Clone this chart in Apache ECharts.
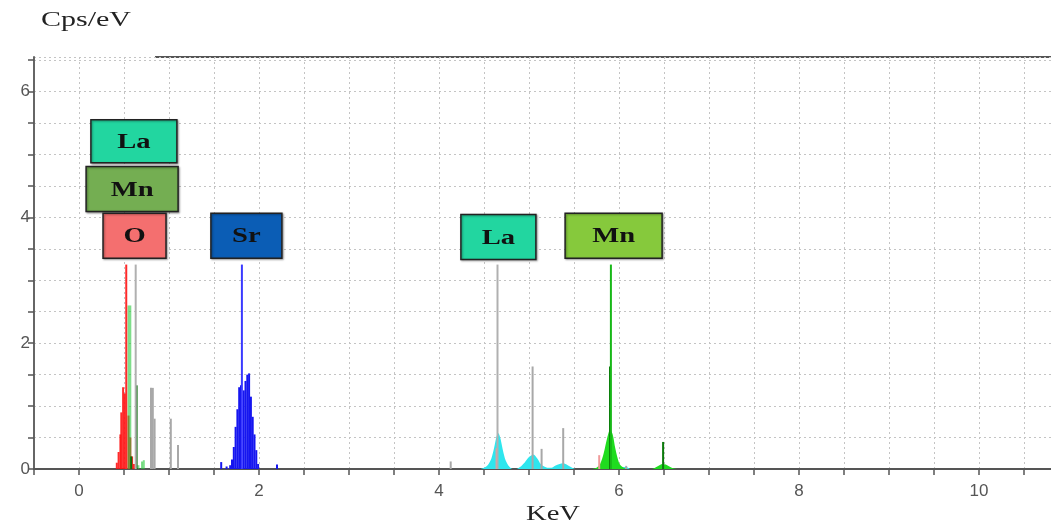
<!DOCTYPE html>
<html><head><meta charset="utf-8">
<script src="https://cdn.jsdelivr.net/npm/echarts@6/dist/echarts.min.js"></script>
<style>html,body{margin:0;padding:0;background:#fff}#c{width:1051px;height:524px}</style>
</head><body><div id="c"></div>
<script>
// ---- data (keV, counts per eV) ----
const oKeV   = [0.42,0.44,0.46,0.47,0.49,0.51,0.55,0.57,0.59,0.61];
const oCps   = [0.10,0.27,0.55,0.90,1.30,1.20,0.85,0.50,0.20,0.08];
const mnLKeV = [0.55,0.57,0.66,0.70,0.72];
const mnLCps = [2.60,2.60,0.06,0.12,0.14];
const mnLDarkKeV = [0.58,0.64];
const mnLDarkCps = [0.20,1.33];
const grayKeV = [0.80,0.82,0.84,1.02,1.10,4.13,5.04,5.14,5.38,6.08];
const grayCps = [1.29,1.29,0.80,0.80,0.38,0.12,1.63,0.32,0.65,0.05];
const srKeV = [1.58,1.64,1.68,1.70,1.72,1.74,1.76,1.78,1.80,1.83,1.85,1.87,1.89,1.91,1.93,1.95,1.97,1.99,2.20];
const srCps = [0.11,0.04,0.06,0.15,0.35,0.67,0.95,1.30,1.33,1.25,1.40,1.50,1.52,1.15,0.83,0.55,0.30,0.08,0.07];
const laLKeV = [4.46,4.50,4.54,4.58,4.61,4.64,4.66,4.68,4.71,4.74,4.78,4.82,4.86,4.90,4.95,5.00,5.05,5.09,5.13,5.17,5.21,5.25,5.29,5.34,5.38,5.43,5.48,5.52,5.96,6.02,6.08,6.12];
const laLCps = [0,0.02,0.06,0.16,0.32,0.52,0.57,0.50,0.30,0.14,0.04,0,0,0.03,0.10,0.19,0.23,0.17,0.08,0.04,0.02,0.02,0.05,0.08,0.09,0.06,0.02,0,0,0.03,0.03,0];
const mnKKeV = [5.70,5.75,5.79,5.83,5.87,5.90,5.93,5.96,6.00,6.04,6.09,6.36,6.40,6.44,6.48,6.52,6.56,6.60,6.64];
const mnKCps = [0,0.02,0.08,0.25,0.50,0.62,0.55,0.32,0.10,0.03,0,0,0.02,0.05,0.08,0.07,0.04,0.01,0];
const mnKDarkKeV = [5.90,6.49];
const mnKDarkCps = [1.63,0.43];
const pinkKeV = [4.64,5.78];
const pinkCps = [0.33,0.22];
// element marker lines
const markerKeV = [0.525,0.63,1.81,4.65,5.91];
const markerCps = [3.25,3.25,3.25,3.25,3.25];
const markerColors = ['#ff2a2a','#b0b0b0','#3a3aff','#b0b0b0','#18b818'];
// element label boxes
const boxNames = ['La','Mn','O','Sr','La','Mn'];
const boxKeV   = [0.61,0.59,0.617,1.86,4.66,5.94];
const boxCps   = [5.21,4.45,3.71,3.71,3.69,3.71];
const boxSizes = [[86,43],[92,45],[63,45],[71,45],[75,45],[97,45]];
const boxColors = ['#22d6a0','#74ae52','#f46f6f','#0b5db5','#22d6a0','#86c93c'];
// tick labels
const xTickLabels = [0,2,4,6,8,10];
const yTickLabels = [0,2,4,6];

const pairs = (xs, ys) => xs.map((x,i)=>[x, ys[i]]);
const barS = (name, xs, ys, color, w) => ({
  name, type:'bar', data: pairs(xs,ys), barWidth: w||2, barGap:'-100%',
  itemStyle:{color}, silent:true, animation:false
});
const serif = 'Liberation Serif, Times New Roman, serif';
const tickFont = 'Liberation Sans Narrow, Liberation Sans, sans-serif';

const chart = echarts.init(document.getElementById('c'));
chart.setOption({
  animation:false,
  backgroundColor:'#fff',
  grid:{left:34,right:0,top:57,bottom:55},
  xAxis:{
    type:'value', min:-0.5, max:10.8, interval:0.5,
    axisLine:{lineStyle:{color:'#555',width:2}},
    axisTick:{show:true,length:6,lineStyle:{color:'#555',width:1.5}},
    axisLabel:{color:'#555',fontSize:17,fontFamily:tickFont,margin:14,
      showMaxLabel:false,
      formatter:v=> xTickLabels.some(t=>Math.abs(t-v)<1e-6) ? String(Math.round(v)) : ''},
    splitLine:{show:true,lineStyle:{color:'#c4c4c4',type:[2,3],width:1}}
  },
  yAxis:{
    type:'value', min:0, max:6.55, interval:0.5,
    axisLine:{show:true,onZero:false,lineStyle:{color:'#666',width:2}},
    axisTick:{show:true,length:6,lineStyle:{color:'#555',width:1.5}},
    axisLabel:{color:'#555',fontSize:17,fontFamily:tickFont,margin:4,
      showMaxLabel:false,
      formatter:v=> yTickLabels.some(t=>Math.abs(t-v)<1e-6) ? String(Math.round(v)) : ''},
    splitLine:{show:true,lineStyle:{color:'#c4c4c4',type:[2,3],width:1}}
  },
  graphic:[
    {type:'text',x:41,y:11,scaleX:1.5,style:{text:'Cps/eV',font:'20px '+serif,fill:'#222'}},
    {type:'text',x:553,y:514,scaleX:1.3,style:{text:'KeV',font:'22px '+serif,fill:'#222',align:'center',verticalAlign:'middle'}},
    {type:'line',shape:{x1:155,y1:57,x2:1051,y2:57},style:{stroke:'#555',lineWidth:2}}
  ],
  series:[
    {name:'La L',type:'line',data:pairs(laLKeV,laLCps),smooth:0.3,showSymbol:false,
     lineStyle:{width:0},areaStyle:{color:'#2ee6ee',opacity:1},silent:true,z:2},
    {name:'Mn K',type:'line',data:pairs(mnKKeV,mnKCps),smooth:0.3,showSymbol:false,
     lineStyle:{width:0},areaStyle:{color:'#1fdc1f',opacity:1},silent:true,z:2},
    barS('gray',grayKeV,grayCps,'#a8a8a8'),
    barS('pink',pinkKeV,pinkCps,'#f09a9a'),
    barS('O',oKeV,oCps,'rgba(255,20,20,0.9)'),
    barS('Mn L',mnLKeV,mnLCps,'rgba(40,200,60,0.6)'),
    barS('Mn L dark',mnLDarkKeV,mnLDarkCps,'#0d6e0d'),
    barS('Mn K dark',mnKDarkKeV,mnKDarkCps,'#0b7a0b'),
    barS('Sr',srKeV,srCps,'#1616f0'),
    {name:'markers',type:'bar',barWidth:2,barGap:'-100%',silent:true,
     data:markerKeV.map((x,i)=>({value:[x,markerCps[i]],itemStyle:{color:markerColors[i]}}))},
    {name:'boxes',type:'custom',silent:true,z:10,
     data:pairs(boxKeV,boxCps),
     renderItem:(params,api)=>{
       const i = params.dataIndex;
       const p = api.coord([api.value(0),api.value(1)]);
       const w = boxSizes[i][0], h = boxSizes[i][1];
       return {type:'group',children:[
         {type:'rect',shape:{x:p[0]-w/2,y:p[1]-h/2,width:w,height:h},
          style:{fill:boxColors[i],stroke:'#222',lineWidth:1.5,
            shadowColor:'rgba(0,0,0,0.35)',shadowBlur:2,shadowOffsetX:1,shadowOffsetY:1}},
         {type:'text',x:p[0],y:p[1]+1,scaleX:1.3,
          style:{text:boxNames[i],font:'bold 22px '+serif,fill:'#111',align:'center',verticalAlign:'middle'}}
       ]};
     }}
  ]
});
</script></body></html>
